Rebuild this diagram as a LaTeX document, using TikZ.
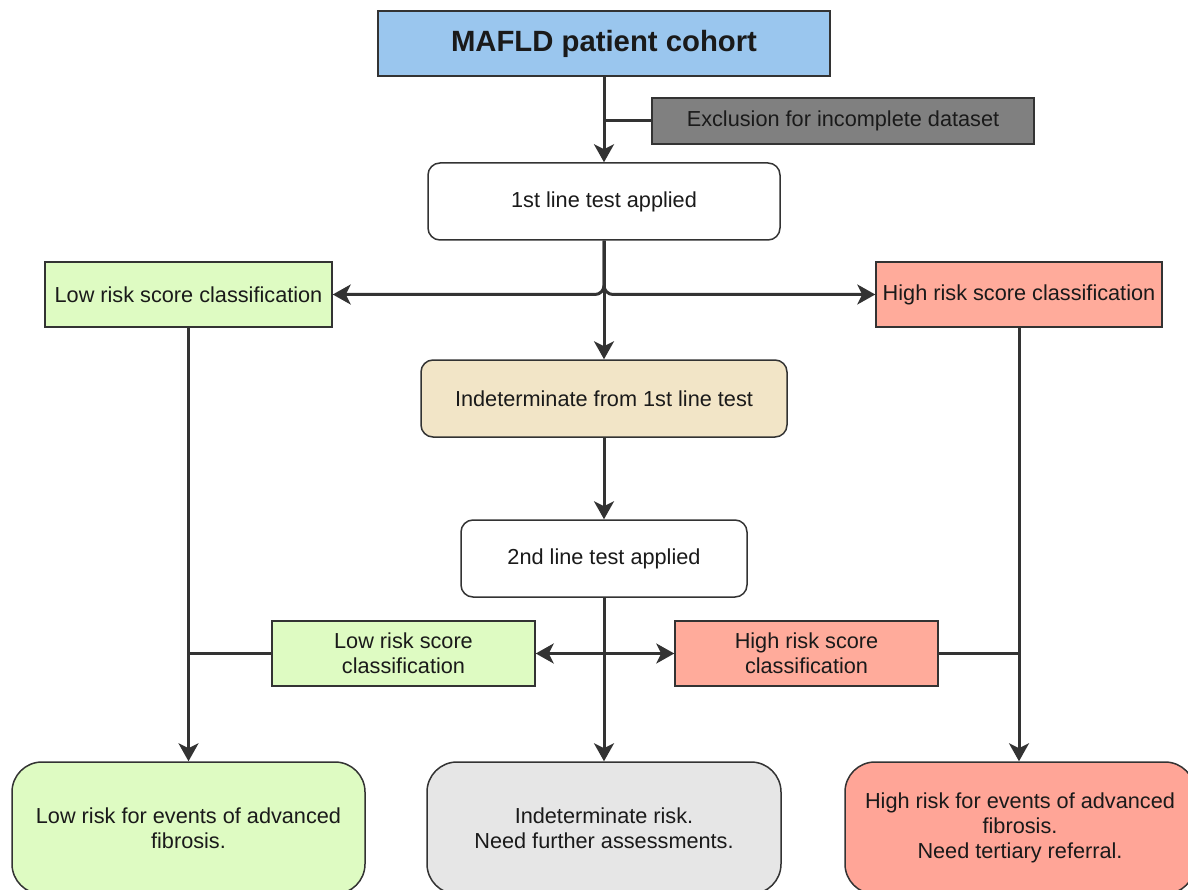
\documentclass[tikz,border=0pt]{standalone}
\usepackage{fontspec}
\setmainfont{Liberation Sans}
\usetikzlibrary{arrows.meta}
\definecolor{cblue}{HTML}{9AC6EE}
\definecolor{cgrey}{HTML}{808080}
\definecolor{cgreen}{HTML}{DEFBC2}
\definecolor{csalmon}{HTML}{FFAB9B}
\definecolor{cbeige}{HTML}{F2E5C7}
\definecolor{clight}{HTML}{E6E6E6}
\definecolor{cred}{HTML}{FFA597}
\definecolor{cline}{HTML}{333333}
\definecolor{ctext}{HTML}{1A1A1A}
\begin{document}
\begin{tikzpicture}[x=1pt,y=-1pt,
  base/.style={draw=cline, line width=1.5pt, inner sep=0pt, align=center, text=ctext,
    font=\fontsize{21.7}{25}\selectfont},
  sq/.style={base},
  rbox/.style={base, rounded corners=12pt, fill=white},
  fbox/.style={base, rounded corners=30pt, minimum height=132pt},
  conn/.style={draw=cline, line width=3pt},
  arr/.style={conn, -{Stealth[length=18pt,width=20pt,inset=5pt]}}
]
\clip (0,0) rectangle (1188,890);
\fill[white] (0,0) rectangle (1188,890);

\node[sq, fill=cblue, minimum width=452pt, minimum height=65pt,
  font=\bfseries\fontsize{29.3}{34}\selectfont] (mafld) at (604,43.5) {MAFLD patient cohort};
\node[sq, fill=cgrey, minimum width=382pt, minimum height=46pt] (excl) at (843,121) {Exclusion for incomplete dataset};
\node[rbox, minimum width=352pt, minimum height=77pt] (first) at (604,201.5) {1st line test applied};
\node[sq, fill=cgreen, minimum width=287pt, minimum height=65pt] (low1) at (188.5,294.5) {Low risk score classification};
\node[sq, fill=csalmon, minimum width=286pt, minimum height=65pt] (high1) at (1019,294.5) {High risk score classification};
\node[rbox, fill=cbeige, minimum width=366pt, minimum height=77pt] (ind1) at (604,398.5) {Indeterminate from 1st line test};
\node[rbox, minimum width=286pt, minimum height=77pt] (second) at (604,558.5) {2nd line test applied};
\node[sq, fill=cgreen, minimum width=263pt, minimum height=65pt] (low2) at (403.5,653.5) {Low risk score\\classification};
\node[sq, fill=csalmon, minimum width=263pt, minimum height=65pt] (high2) at (806.5,653.5) {High risk score\\classification};

\node[fbox, fill=cgreen, minimum width=353pt] (lowf) at (188.5,828) {Low risk for events of advanced\\fibrosis.};
\node[fbox, fill=clight, minimum width=354pt] (indf) at (604,828) {Indeterminate risk.\\Need further assessments.};
\node[fbox, fill=cred, minimum width=350pt] (highf) at (1020,828) {High risk for events of advanced\\fibrosis.\\Need tertiary referral.};

% connectors
\draw[arr] (mafld.south) -- (first.north);
\coordinate (exj) at (mafld.south |- excl.west);
\draw[conn] (exj) -- (excl.west);

\draw[arr, rounded corners=9pt] (first.south) |- (low1.east);
\draw[arr, rounded corners=9pt] (first.south) |- (high1.west);
\draw[arr] (first.south) -- (ind1.north);

\draw[arr] (ind1.south) -- (second.north);
\draw[arr] (second.south) -- (indf.north);
\coordinate (mid2) at (second.south |- low2.east);
\draw[arr] (mid2) -- (low2.east);
\draw[arr] (mid2) -- (high2.west);

\draw[arr] (low1.south) -- (low1.south |- lowf.north);
\coordinate (lj) at (low1.south |- low2.west);
\draw[conn] (low2.west) -- (lj);

\draw[arr] (high1.south) -- (high1.south |- highf.north);
\coordinate (hj) at (high1.south |- high2.east);
\draw[conn] (high2.east) -- (hj);
\end{tikzpicture}
\end{document}
